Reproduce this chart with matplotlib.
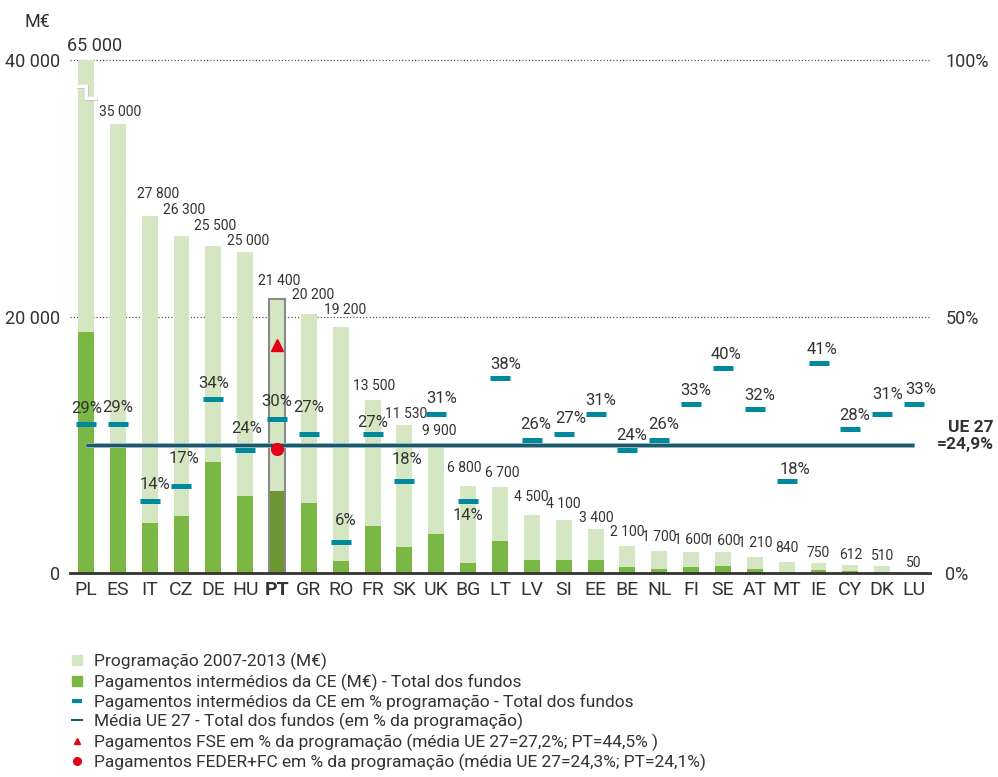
import matplotlib
matplotlib.use('Agg')
import matplotlib.pyplot as plt
from matplotlib.lines import Line2D
import numpy as np

# ---------------- data ----------------
countries = ['PL', 'ES', 'IT', 'CZ', 'DE', 'HU', 'PT', 'GR', 'RO', 'FR', 'SK', 'UK', 'BG',
             'LT', 'LV', 'SI', 'EE', 'BE', 'NL', 'FI', 'SE', 'AT', 'MT', 'IE', 'CY', 'DK', 'LU']
programacao = [65000, 35000, 27800, 26300, 25500, 25000, 21400, 20200, 19200, 13500, 11530,
               9900, 6800, 6700, 4500, 4100, 3400, 2100, 1700, 1600, 1600, 1210, 840, 750,
               612, 510, 50]
pagamentos = [18800, 10100, 3900, 4450, 8650, 6000, 6400, 5450, 950, 3650, 2000, 3050, 800,
              2500, 1050, 1050, 1000, 440, 340, 440, 570, 290, 60, 210, 130, 60, 10]
pct = [29, 29, 14, 17, 34, 24, 30, 27, 6, 27, 18, 31, 14, 38, 26, 27, 31, 24, 26, 33, 40, 32,
       18, 41, 28, 31, 33]
ue27_media = 24.9
pt_fse = 44.5
pt_feder = 24.1
destaque = 'PT'
left_ticks = [0, 20000, 40000]
right_ticks = [0, 50, 100]

legend_labels = [
    'Programação 2007-2013 (M€)',
    'Pagamentos intermédios da CE (M€) - Total dos fundos',
    'Pagamentos intermédios da CE em % programação - Total dos fundos',
    'Média UE 27 - Total dos fundos (em % da programação)',
    'Pagamentos FSE em % da programação (média UE 27=27,2%; PT=44,5% )',
    'Pagamentos FEDER+FC em % da programação (média UE 27=24,3%; PT=24,1%)',
]

# ---------------- style ----------------
plt.rcParams['font.family'] = ['Roboto', 'DejaVu Sans']
TXT = '#333333'
LIGHT = '#d4e7c2'
DARK = '#7ab744'
DARK_PT = '#6d9532'
TEAL = '#00889d'
AVG = '#1b5a6b'
RED = '#e2001a'

# label offsets in pixels (dx, dy; dy negative = up)
pct_dx = [1, 0, 5, 3, 0, 2, 0, 0, 5, 0, 3, 5, 0, 6, 4, 7, 5, 4, 4, 5, 3, 5, 8, 3, 4, 5, 7]
pct_dy = [-16, -17, -17, -27, -15, -21, -18, -27, -22, -12, -21, -15, 14, -14, -15, -16, -13,
          -14, -15, -13, -13, -13, -11, -13, -14, -19, -14]
val_dx = [9, 2, 8, 3, 2, 3, 2, 4, 4, 2, 2, 3, -4, 2, -1, 0, 1, 0, 0, 0, 0, 0, 0, 0, 0, 0, 0]
val_dy = [14, 12, 22, 26, 20, 11, 18, 19, 17, 14, 11, 15, 18, 14, 18, 16, 11, 14, 14, 12, 11,
          14, 14, 10, 10, 10, 9]

W, H = 998, 777
fig = plt.figure(figsize=(W / 100, H / 100), dpi=100)
ax = fig.add_axes([70 / W, 1 - 573 / H, 860 / W, 513 / H])

x = np.arange(len(countries))
ymax = left_ticks[-1]
ipt = countries.index(destaque)

light_colors = [LIGHT] * len(countries)
dark_colors = [DARK_PT if c == destaque else DARK for c in countries]

ax.bar(x, programacao, width=0.5, color=light_colors, zorder=2)
ax.bar(x, pagamentos, width=0.5, color=dark_colors, zorder=3)
ax.bar(x[ipt], programacao[ipt], width=0.5, fill=False, edgecolor='#8a8a8a', linewidth=1.5,
       zorder=4)

ax.set_xlim(-0.5, len(countries) - 0.5)
ax.set_ylim(0, ymax)

for s in ['left', 'right', 'top']:
    ax.spines[s].set_visible(False)
ax.spines['bottom'].set_color(TXT)
ax.spines['bottom'].set_linewidth(2)
ax.spines['bottom'].set_zorder(6)

for g in left_ticks[1:]:
    ax.axhline(g, color='#555555', lw=0.9, ls=(0, (1, 1.6)), zorder=1, clip_on=False)

ax.set_yticks(left_ticks, [f'{v:,}'.replace(',', ' ') for v in left_ticks])
ax.tick_params(axis='y', length=0, pad=7, labelsize=13, labelcolor=TXT)
ax.set_xticks(x, countries)
ax.tick_params(axis='x', length=0, pad=6, labelsize=14, labelcolor=TXT)
for lab in ax.get_xticklabels():
    if lab.get_text() == destaque:
        lab.set_fontweight('bold')

# break symbol on the clipped bar
px_x = (len(countries)) / 860.0
px_y = ymax / 513.0
for i, v in enumerate(programacao):
    if v > ymax:
        bx = [x[i] - 10 * px_x, x[i], x[i], x[i] + 11 * px_x]
        by = [ymax - 26 * px_y, ymax - 26 * px_y, ymax - 38 * px_y, ymax - 38 * px_y]
        ax.plot([b + 1 * px_x for b in bx], [b - 1 * px_y for b in by], color='#b5b5b5',
                lw=2.6, zorder=5, solid_joinstyle='miter', solid_capstyle='butt')
        ax.plot(bx, by, color='white', lw=2.4, zorder=6, solid_joinstyle='miter',
                solid_capstyle='butt')

# value labels
for i, v in enumerate(programacao):
    fs = 13 if v > ymax else 10
    ax.annotate(f'{v:,}'.replace(',', ' '), (x[i], min(v, ymax)),
                xytext=(val_dx[i] * 0.72, val_dy[i] * 0.72), textcoords='offset points',
                ha='center', va='center', fontsize=fs, color=TXT, zorder=7,
                annotation_clip=False)

# right axis (percent)
ax2 = ax.twinx()
ax2.set_ylim(0, right_ticks[-1])
for s in ax2.spines.values():
    s.set_visible(False)
ax2.set_yticks(right_ticks, [f'{v}%' for v in right_ticks])
ax2.tick_params(axis='y', length=0, pad=11, labelsize=13, labelcolor=TXT)

ax2.plot([x[0], x[-1]], [ue27_media, ue27_media], color='#a8c8d2', lw=3.6, zorder=2,
         solid_capstyle='butt')
ax2.plot([x[0], x[-1]], [ue27_media, ue27_media], color=AVG, lw=2.4, zorder=3,
         solid_capstyle='butt')
ax2.plot(x, pct, ls='none', marker='_', ms=14.5, mew=3.6, color=TEAL, zorder=4)
ax2.plot([x[ipt]], [pt_fse], ls='none', marker='^', ms=8.5, color=RED, zorder=5)
ax2.plot([x[ipt]], [pt_feder], ls='none', marker='o', ms=8.5, color=RED, zorder=5)

for i, p in enumerate(pct):
    ax2.annotate(f'{p}%', (x[i], p), xytext=(pct_dx[i] * 0.72, -pct_dy[i] * 0.72),
                 textcoords='offset points', ha='center', va='center', fontsize=12,
                 color=TXT, zorder=6)

fig.text(37 / W, 1 - 22 / H, 'M€', ha='center', va='center', fontsize=13, color=TXT)
fig.text(994 / W, 1 - 436 / H, 'UE 27\n=24,9%', ha='right', va='center', fontsize=12.5,
         fontweight='bold', color=TXT, multialignment='right', linespacing=1.15)

handles = [
    Line2D([], [], ls='none', marker='s', ms=7, color=LIGHT),
    Line2D([], [], ls='none', marker='s', ms=7, color=DARK),
    Line2D([], [], ls='none', marker='_', ms=7, mew=3, color=TEAL),
    Line2D([], [], ls='none', marker='_', ms=8, mew=1.5, color=AVG),
    Line2D([], [], ls='none', marker='^', ms=5, color=RED),
    Line2D([], [], ls='none', marker='o', ms=5.5, color=RED),
]
fig.legend(handles, legend_labels, loc='upper left', bbox_to_anchor=(71 / W, 1 - 653 / H),
           frameon=False, fontsize=12.5, handlelength=0.7, handletextpad=0.6,
           labelspacing=0.18, borderpad=0, borderaxespad=0, labelcolor=TXT)

fig.savefig('out.png', dpi=100)
